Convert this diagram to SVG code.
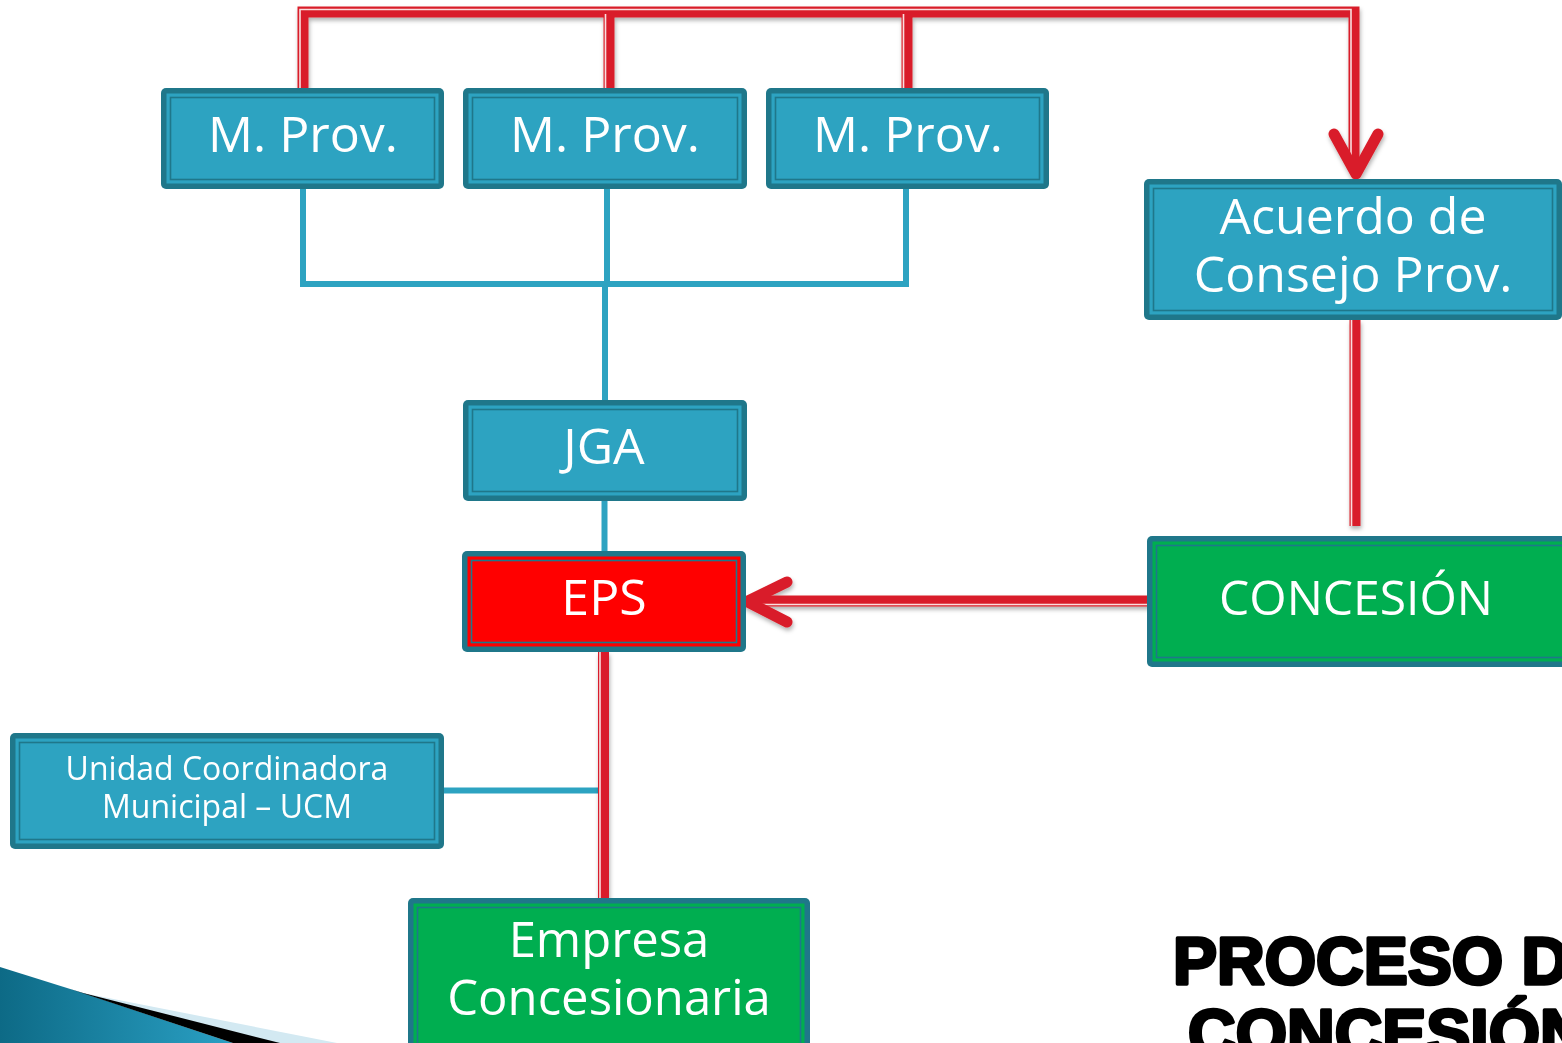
<svg xmlns="http://www.w3.org/2000/svg" width="1562" height="1043" viewBox="0 0 1562 1043">
<defs>
<style>
.outer{fill:#1F778A}
.ring{stroke:#1F778A;stroke-width:1.6}
.blue{fill:#2DA3C1}
.green{fill:#00AE50}
.redf{fill:#FF0000}
.lbl{font-family:"Open Sans","DejaVu Sans",sans-serif;fill:#FFFFFF;text-anchor:middle}
.bl{stroke:#2DA3C1;stroke-width:6;fill:none}
.rl{stroke:#D91F2A;stroke-width:11;fill:none}
.rw{stroke:#FFFFFF;stroke-width:1.6;fill:none;opacity:0.85}
.ah{stroke:#D91F2A;stroke-width:11;fill:none;stroke-linecap:round;stroke-linejoin:round}
.title{font-family:"Liberation Sans",Arial,sans-serif;font-weight:bold;font-size:66px;fill:#000;stroke:#000;stroke-width:3.4;stroke-linejoin:round}
</style>
<filter id="sh" x="-5%" y="-5%" width="110%" height="110%">
<feDropShadow dx="1" dy="3" stdDeviation="2" flood-color="#000" flood-opacity="0.3"/>
</filter>
<linearGradient id="wedge" x1="0" y1="0" x2="1" y2="0">
<stop offset="0" stop-color="#0D6A86"/>
<stop offset="1" stop-color="#2AA0C4"/>
</linearGradient>
</defs>

<g id="decoration">
<polygon points="83,993 337,1043 233,1043" fill="#D3E9F2"/>
<polygon points="0,967 83,993 233,1043 0,1043" fill="url(#wedge)"/>
<polygon points="70,989 83,993 280,1043 233,1043" fill="#000"/>
</g>

<g id="connectors">
<g id="blue-lines">
<path class="bl" d="M303 189 V284 M607 189 V284 M906 189 V284 M300 284 H909 M605 284 V400"/>
<path class="bl" d="M604.5 501 V551"/>
<path class="bl" d="M444 790.5 H603"/>
</g>
<g id="red-lines" filter="url(#sh)">
<path class="rl" d="M303 92 V12 H1354 V168"/>
<path class="rl" d="M609 12 V92 M907 12 V92"/>
<path class="rw" d="M300 92 V9.5 H1351 V168"/>
<path class="rw" d="M605.5 14 V92 M903.5 14 V92"/>
<path class="ah" d="M1334 134 L1356 174 L1378 134"/>
<path class="rl" d="M1355 320 V526"/>
<path class="rw" d="M1351.5 320 V526"/>
<path class="rl" d="M1150 601 H752"/>
<path class="rw" d="M1150 604.5 H755"/>
<path class="ah" d="M787 582 L747 601.5 L787 622"/>
<path class="rl" d="M603.5 652 V900"/>
<path class="rw" d="M600 652 V900"/>
</g>
</g>

<g id="mprov1">
<rect class="outer" x="161" y="88" width="283" height="101" rx="5"/>
<rect class="blue" x="166.5" y="93.5" width="272" height="90"/>
<rect class="blue ring" x="170.5" y="97.5" width="264" height="82"/>
<text class="lbl" x="303" y="152" font-size="50">M. Prov.</text>
</g>
<g id="mprov2">
<rect class="outer" x="463" y="88" width="284" height="101" rx="5"/>
<rect class="blue" x="468.5" y="93.5" width="273" height="90"/>
<rect class="blue ring" x="472.5" y="97.5" width="265" height="82"/>
<text class="lbl" x="605" y="152" font-size="50">M. Prov.</text>
</g>
<g id="mprov3">
<rect class="outer" x="766" y="88" width="283" height="101" rx="5"/>
<rect class="blue" x="771.5" y="93.5" width="272" height="90"/>
<rect class="blue ring" x="775.5" y="97.5" width="264" height="82"/>
<text class="lbl" x="908" y="152" font-size="50">M. Prov.</text>
</g>
<g id="acuerdo">
<rect class="outer" x="1144" y="179" width="418" height="141" rx="5"/>
<rect class="blue" x="1149.5" y="184.5" width="407" height="130"/>
<rect class="blue ring" x="1153.5" y="188.5" width="399" height="122"/>
<text class="lbl" x="1353" y="234" font-size="50">Acuerdo de</text>
<text class="lbl" x="1353" y="292" font-size="50">Consejo Prov.</text>
</g>
<g id="jga">
<rect class="outer" x="463" y="400" width="284" height="101" rx="5"/>
<rect class="blue" x="468.5" y="405.5" width="273" height="90"/>
<rect class="blue ring" x="472.5" y="409.5" width="265" height="82"/>
<text class="lbl" x="604" y="464" font-size="50">JGA</text>
</g>
<g id="eps">
<rect class="outer" x="462" y="551" width="284" height="101" rx="5"/>
<rect class="redf" x="467.5" y="556.5" width="273" height="90"/>
<rect class="redf ring" x="471.5" y="560.5" width="265" height="82"/>
<text class="lbl" x="604" y="615" font-size="50">EPS</text>
</g>
<g id="concesion">
<rect class="outer" x="1147" y="536" width="425" height="131" rx="5"/>
<rect class="green" x="1152.5" y="541.5" width="420" height="120"/>
<rect class="green ring" x="1156.5" y="545.5" width="420" height="112"/>
<text class="lbl" x="1356" y="615" font-size="48">CONCESIÓN</text>
</g>
<g id="ucm">
<rect class="outer" x="10" y="733" width="434" height="116" rx="5"/>
<rect class="blue" x="15.5" y="738.5" width="423" height="105"/>
<rect class="blue ring" x="19.5" y="742.5" width="415" height="97"/>
<text class="lbl" x="227" y="780" font-size="32">Unidad Coordinadora</text>
<text class="lbl" x="227" y="818" font-size="32">Municipal – UCM</text>
</g>
<g id="empresa">
<rect class="outer" x="408" y="898" width="402" height="160" rx="5"/>
<rect class="green" x="413.5" y="903.5" width="391" height="150"/>
<rect class="green ring" x="417.5" y="907.5" width="383" height="150"/>
<text class="lbl" x="609" y="957" font-size="49">Empresa</text>
<text class="lbl" x="609" y="1015" font-size="49">Concesionaria</text>
</g>

<g id="title">
<text class="title" x="1173" y="984">PROCESO DE</text>
<text class="title" x="1188" y="1056">CONCESIÓN</text>
</g>
</svg>
